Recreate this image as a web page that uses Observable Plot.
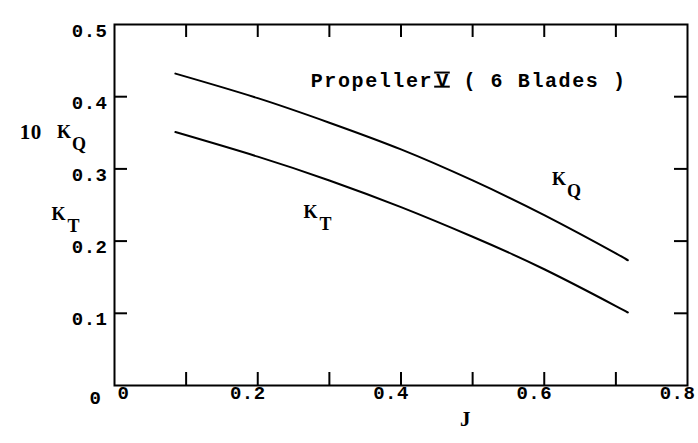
<!DOCTYPE html>
<html>
<head>
<meta charset="utf-8">
<script src="https://cdn.jsdelivr.net/npm/d3@7"></script>
<script src="https://cdn.jsdelivr.net/npm/@observablehq/plot@0.6"></script>
<style>
  html, body { margin: 0; padding: 0; background: #fff; }
</style>
</head>
<body>
<div id="chart"></div>
<script>
// Advance coefficient J and the open-water characteristics of the 6-bladed propeller
const J = [0.085, 0.2, 0.3, 0.4, 0.5, 0.6, 0.7, 0.715];
const tenKQ = [0.432, 0.398, 0.364, 0.327, 0.284, 0.236, 0.183, 0.174];
const KT = [0.351, 0.317, 0.284, 0.247, 0.206, 0.161, 0.110, 0.102];

// Axis ticks and labels
const xTicks = [0.1, 0.2, 0.3, 0.4, 0.5, 0.6, 0.7];
const yTicks = [0.1, 0.2, 0.3, 0.4];
const xTickLabels = [0.2, 0.4, 0.6, 0.8];
const yTickLabels = [0.1, 0.2, 0.3, 0.4, 0.5];

// Curve names (K with subscript), placed in J / coefficient coordinates
const curveLabels = [
  {J: -0.070, v: 0.351, sub: "Q"},
  {J: -0.078, v: 0.237, sub: "T"},
  {J: 0.274, v: 0.240, sub: "T"},
  {J: 0.621, v: 0.285, sub: "Q"}
];
const titleText = "Propeller V ( 6 Blades )";

const width = 698, height = 443;
const margin = {top: 24, right: 11, bottom: 58, left: 114};
const frameW = width - margin.left - margin.right;
const frameH = height - margin.top - margin.bottom;
const tickLen = 13;
const titleSize = 20;

const rows = (vals) => J.map((j, i) => ({J: j, v: vals[i]}));

const mono = "'Liberation Mono', 'DejaVu Sans Mono', monospace";
const serif = "'Liberation Serif', 'DejaVu Serif', serif";

const chart = Plot.plot({
  width, height,
  marginTop: margin.top, marginRight: margin.right,
  marginBottom: margin.bottom, marginLeft: margin.left,
  x: {domain: [0, 0.8], axis: null},
  y: {domain: [0, 0.5], axis: null},
  style: {background: "#fff", color: "#000", overflow: "visible"},
  marks: [
    Plot.frame({stroke: "#000", strokeWidth: 2}),
    // inward ticks on all four sides
    Plot.tickX(xTicks, {x: d => d, insetTop: frameH - tickLen, strokeWidth: 2}),
    Plot.tickX(xTicks, {x: d => d, insetBottom: frameH - tickLen, strokeWidth: 2}),
    Plot.tickY(yTicks, {y: d => d, insetRight: frameW - tickLen, strokeWidth: 2}),
    Plot.tickY(yTicks, {y: d => d, insetLeft: frameW - tickLen, strokeWidth: 2}),
    // tick labels
    Plot.text(yTickLabels, {y: d => d, text: d => d.toFixed(1), frameAnchor: "left",
      textAnchor: "end", dx: -7, dy: 6, fontSize: 19, fontWeight: "bold", fontFamily: mono}),
    Plot.text([0], {y: d => d, text: () => "0", frameAnchor: "left",
      dx: -25, dy: 12, fontSize: 19, fontWeight: "bold", fontFamily: mono}),
    Plot.text(xTickLabels, {x: d => d, text: d => d.toFixed(1), frameAnchor: "bottom",
      dx: -10, dy: 13, fontSize: 19, fontWeight: "bold", fontFamily: mono}),
    Plot.text([0], {x: d => d, text: () => "0", frameAnchor: "bottom", textAnchor: "start",
      dx: 3, dy: 13, fontSize: 19, fontWeight: "bold", fontFamily: mono}),
    // axis title
    Plot.text([{J: 0.49}], {x: "J", text: () => "J", frameAnchor: "bottom",
      dy: 40, fontSize: 21, fontWeight: "bold", fontFamily: serif}),
    // curves
    Plot.line(rows(tenKQ), {x: "J", y: "v", curve: "natural", stroke: "#000", strokeWidth: 2}),
    Plot.line(rows(KT), {x: "J", y: "v", curve: "natural", stroke: "#000", strokeWidth: 2}),
    // curve names
    Plot.text(curveLabels, {x: "J", y: "v", text: () => "K", fontSize: 18,
      fontWeight: "bold", fontFamily: serif}),
    Plot.text(curveLabels, {x: "J", y: "v", text: "sub", dx: 15, dy: 12, fontSize: 18,
      fontWeight: "bold", fontFamily: serif}),
    Plot.text([{J: -0.117, v: 0.351}], {x: "J", y: "v", text: () => "10", fontSize: 21,
      fontWeight: "bold", fontFamily: serif}),
    // chart title
    Plot.text([{J: 0.274, v: 0.423}], {x: "J", y: "v", text: () => titleText,
      textAnchor: "start", fontSize: titleSize, fontWeight: "bold", fontFamily: mono})
  ]
});

// Typewriter-style letter spacing
const svg = d3.select(chart);
svg.selectAll("text").style("letter-spacing", "0.5px");

// Title with the Roman numeral V set between two bars
const title = svg.selectAll("text")
  .filter(function() { return this.textContent === titleText; })
  .style("letter-spacing", "1.6px");
title.text(null);
title.append("tspan").text("Propeller");
title.append("tspan").attr("dx", 3).text("V");
title.append("tspan").text(" ( 6 Blades )");

document.getElementById("chart").appendChild(chart);

// Bars above and below the numeral, in the title's own coordinate space
const node = title.node();
const ext = node.getExtentOfChar(9);
const baseline = ext.y + 0.833 * titleSize;
const bars = d3.select(node.parentNode).append("g")
  .attr("transform", node.getAttribute("transform"))
  .attr("stroke", "#000").attr("stroke-width", 2);
for (const yy of [baseline - 0.68 * titleSize, baseline + 0.5]) {
  bars.append("line")
    .attr("x1", ext.x - 2).attr("x2", ext.x + ext.width)
    .attr("y1", yy).attr("y2", yy);
}
</script>
</body>
</html>
